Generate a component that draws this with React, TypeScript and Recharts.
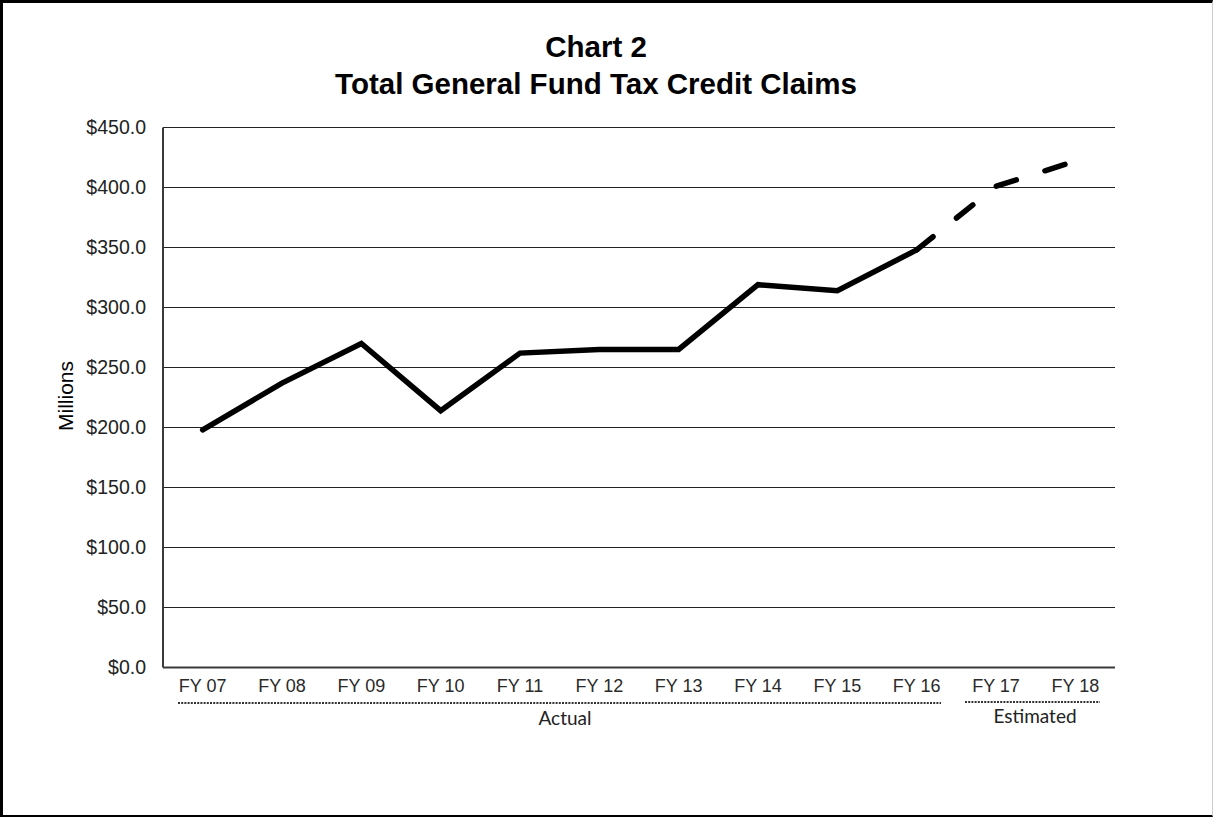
import { LineChart, Line, XAxis, YAxis, CartesianGrid } from 'recharts'

const categories = ['FY 07', 'FY 08', 'FY 09', 'FY 10', 'FY 11', 'FY 12', 'FY 13', 'FY 14', 'FY 15', 'FY 16', 'FY 17', 'FY 18']
const actualValues = [198, 237, 270, 214, 262, 265, 265, 319, 314, 348, null, null]
const estimatedValues = [null, null, null, null, null, null, null, null, null, 348, 401, 422]
const yTicks = [0, 50, 100, 150, 200, 250, 300, 350, 400, 450]

const W = 1213
const H = 817
const ARIAL = '"Liberation Sans", Arial, sans-serif'
const CALIBRI = 'Lato, "Open Sans", sans-serif'
// half a category band on each side, so points sit in band centres like Excel
const BAND_PAD = 952 / categories.length / 2

const data = categories.map((name, i) => ({
  name,
  actual: actualValues[i],
  estimated: estimatedValues[i],
}))

export default function App() {
  return (
    <div style={{ position: 'relative', width: W, height: H, background: '#fff', fontFamily: ARIAL }}>
      <style>{'body{margin:0}'}</style>
      <LineChart width={W} height={H} data={data} margin={{ top: 127.5, right: 98, bottom: 119.5, left: 83 }}>
        <CartesianGrid vertical={false} stroke="#222" strokeWidth={1} />
        <XAxis
          dataKey="name"
          height={30}
          padding={{ left: BAND_PAD, right: BAND_PAD }}
          tickLine={false}
          tickSize={0}
          tickMargin={12}
          axisLine={{ stroke: '#3a3a3a', strokeWidth: 2 }}
          tick={{ fontSize: 18, fill: '#2a2a2a', fontFamily: ARIAL }}
          interval={0}
        />
        <XAxis
          xAxisId="top"
          orientation="top"
          dataKey="name"
          height={0}
          tick={false}
          tickLine={false}
          axisLine={{ stroke: '#8c8c8c', strokeWidth: 2 }}
        />
        <YAxis
          width={80}
          domain={[0, 450]}
          ticks={yTicks}
          tickLine={false}
          tickSize={0}
          tickMargin={17}
          axisLine={{ stroke: '#3a3a3a', strokeWidth: 2 }}
          tick={{ fontSize: 19.5, fill: '#222', fontFamily: ARIAL }}
          tickFormatter={(v: number) => `$${v.toFixed(1)}`}
        />
        <YAxis
          yAxisId="right"
          orientation="right"
          width={0}
          domain={[0, 450]}
          tick={false}
          tickLine={false}
          axisLine={{ stroke: '#8c8c8c', strokeWidth: 2 }}
        />
        <Line
          dataKey="actual"
          stroke="#000"
          strokeWidth={5.5}
          dot={false}
          activeDot={false}
          isAnimationActive={false}
          strokeLinejoin="miter"
          strokeLinecap="round"
        />
        <Line
          dataKey="estimated"
          stroke="#000"
          strokeWidth={5.5}
          strokeDasharray="21 30"
          strokeLinecap="round"
          dot={false}
          activeDot={false}
          isAnimationActive={false}
        />
      </LineChart>

      <svg width={W} height={H} style={{ position: 'absolute', left: 0, top: 0, pointerEvents: 'none' }}>
        <text x={596} y={57} textAnchor="middle" fontSize={29.5} fontWeight="bold" fontFamily={ARIAL} fill="#000">
          Chart 2
        </text>
        <text x={596} y={94} textAnchor="middle" fontSize={29.5} fontWeight="bold" fontFamily={ARIAL} fill="#000">
          Total General Fund Tax Credit Claims
        </text>
        <text
          x={0}
          y={0}
          transform="translate(73 396) rotate(-90)"
          textAnchor="middle"
          fontSize={21}
          fontFamily={ARIAL}
          fill="#000"
        >
          Millions
        </text>
        <line x1={178} x2={941} y1={703} y2={703} stroke="#333" strokeWidth={2} strokeDasharray="2 1.2" />
        <line x1={965} x2={1100} y1={702} y2={702} stroke="#333" strokeWidth={2} strokeDasharray="2 1.2" />
        <text x={565} y={725} textAnchor="middle" fontSize={19} fontFamily={CALIBRI} fill="#222">
          Actual
        </text>
        <text x={1035} y={723} textAnchor="middle" fontSize={19} fontFamily={CALIBRI} fill="#222">
          Estimated
        </text>
      </svg>

      <div
        style={{
          position: 'absolute',
          inset: 0,
          boxSizing: 'border-box',
          borderLeft: '3px solid #000',
          borderTop: '3px solid #000',
          borderBottom: '2px solid #000',
          borderRight: '1px solid #ccc',
          pointerEvents: 'none',
        }}
      />
    </div>
  )
}
